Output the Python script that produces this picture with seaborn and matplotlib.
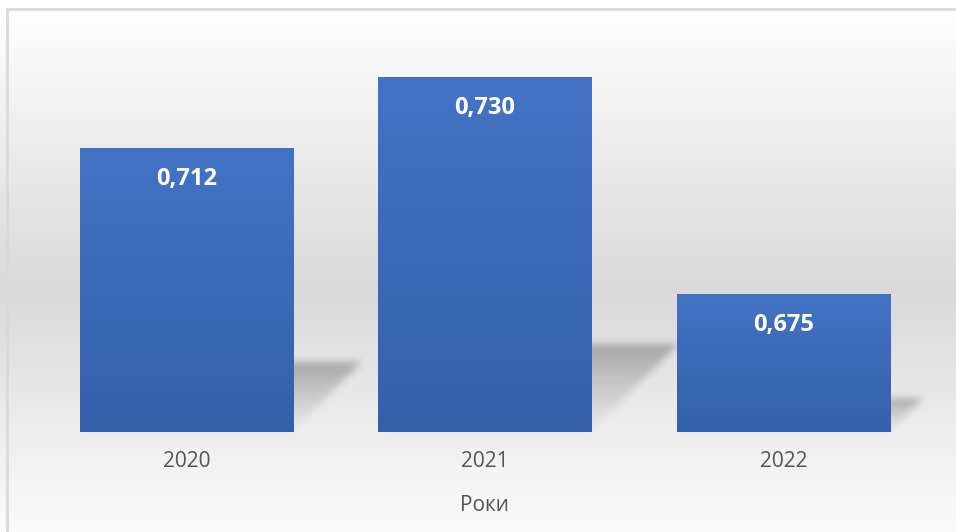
import numpy as np
import matplotlib
matplotlib.use("Agg")
import matplotlib.pyplot as plt
from matplotlib.colors import LinearSegmentedColormap
from matplotlib.patches import Rectangle
import seaborn as sns

years = ["2020", "2021", "2022"]
values = [0.712, 0.730, 0.675]
axis_label = "Роки"

W, H, DPI = 956, 532, 100
sns.set_theme(style="white")
plt.rcParams["font.family"] = ["Open Sans", "DejaVu Sans"]

fig = plt.figure(figsize=(W / DPI, H / DPI), dpi=DPI)
fig.patch.set_facecolor("white")
ax = fig.add_axes([37 / W, 1 - 432 / H, (933 - 37) / W, (432 - 37.6) / H])
ax.patch.set_alpha(0)

sns.barplot(x=years, y=values, color="#4472c4", width=0.714, ax=ax,
            saturation=1, edgecolor="none")
ylo, yhi = 0.64, 0.74
ax.set_ylim(ylo, yhi)
xlim = ax.get_xlim()

# vertical gradient on each bar
bar_cmap = LinearSegmentedColormap.from_list("bar", ["#3460aa", "#4473c5"])
grad = np.linspace(0, 1, 256).reshape(-1, 1)
for p, v in zip(ax.patches, values):
    x0, x1 = p.get_x(), p.get_x() + p.get_width()
    im = ax.imshow(grad, extent=[x0, x1, ylo, v], origin="lower", cmap=bar_cmap,
                   aspect="auto", zorder=3, interpolation="bilinear")
    im.set_clip_path(p)
    ax.annotate(f"{v:.3f}".replace(".", ","), xy=(p.get_x() + p.get_width() / 2, v),
                xytext=(0, -31), textcoords="offset pixels", ha="center", va="center",
                color="white", fontsize=17, fontweight="bold", zorder=5)
ax.set_xlim(xlim)

ax.set_yticks([])
ax.tick_params(axis="x", length=0, pad=14, labelsize=15, labelcolor="#555555")
ax.set_xlabel(axis_label, fontsize=15, color="#555555", labelpad=16)
for s in ax.spines.values():
    s.set_visible(False)

fig.canvas.draw()

# backdrop: white at the top, gray band in the lower plot area, fading to white again
ys = np.arange(H)
lvl = np.interp(ys, [9, 290, 432, 531], [255, 217, 238, 251])
lvl[ys < 9] = 255
bg = np.repeat((lvl / 255.0)[:, None], W, axis=1)
bg_rgb = np.dstack([bg, bg, bg])
fig.figimage(bg_rgb, xo=0, yo=0, origin="upper", zorder=-2)

# skewed drop shadows cast by the bars onto the floor
alpha = np.zeros((H, W))
base = ax.transData.transform((0, ylo))[1]
for p in ax.patches:
    bb = p.get_window_extent()
    h = 0.25 * (bb.y1 - base)
    for t in range(int(h)):
        yd = int(base + t)
        r = H - 1 - yd
        if 0 <= r < H:
            xa, xb = int(bb.x0 + t), int(bb.x1 + t)
            alpha[r, max(xa, 0):min(xb, W)] = 0.02 + 0.25 * (t / h) ** 1.2


def box_blur(a, k):
    ker = np.ones(k) / k
    a = np.apply_along_axis(lambda m: np.convolve(m, ker, mode="same"), 0, a)
    a = np.apply_along_axis(lambda m: np.convolve(m, ker, mode="same"), 1, a)
    return a


alpha = box_blur(box_blur(box_blur(alpha, 9), 7), 5)
shadow = np.zeros((H, W, 4))
shadow[..., 3] = alpha
fig.figimage(shadow, xo=0, yo=0, origin="upper", zorder=-1)

# chart area frame
fig.patches.append(Rectangle((7 / W, -0.1), 1.2, 1 - 9 / H + 0.1, transform=fig.transFigure,
                             fill=False, edgecolor="#d9d9d9", linewidth=2, zorder=10))

fig.savefig("out.png", dpi=DPI)
